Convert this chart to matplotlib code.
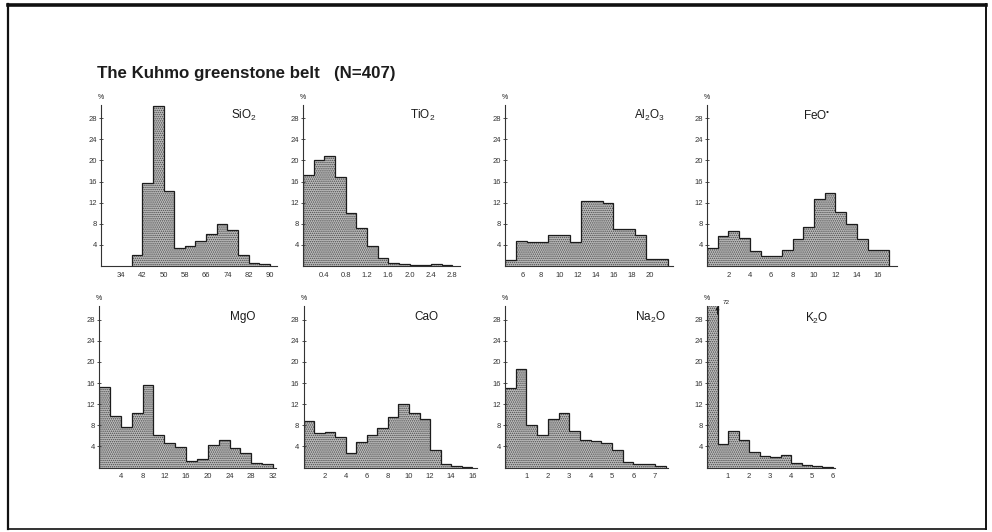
import matplotlib
matplotlib.use("Agg")
import matplotlib.pyplot as plt
from matplotlib.lines import Line2D

plt.rcParams['font.family'] = ['Liberation Sans', 'DejaVu Sans']
plt.rcParams['mathtext.fontset'] = 'custom'
plt.rcParams['mathtext.rm'] = 'Liberation Sans'
plt.rcParams['mathtext.default'] = 'regular'
plt.rcParams['hatch.linewidth'] = 0.7

# bin edges (wt %) and frequencies (%)
sio2_edges = [38, 42, 46, 50, 54, 58, 62, 66, 70, 74, 78, 82, 86, 90]
sio2_pct = [2.0, 15.8, 30.3, 14.2, 3.5, 3.7, 4.8, 6.0, 8.0, 6.8, 2.0, 0.5, 0.3]

tio2_edges = [0, 0.2, 0.4, 0.6, 0.8, 1.0, 1.2, 1.4, 1.6, 1.8, 2.0, 2.2, 2.4, 2.6, 2.8]
tio2_pct = [17.2, 20.1, 20.9, 16.8, 10.1, 7.2, 3.7, 1.5, 0.5, 0.3, 0.2, 0.1, 0.3, 0.2]

al2o3_edges = [4, 5.2, 6.4, 7.6, 8.8, 10.0, 11.2, 12.4, 13.6, 14.8, 16.0, 17.2, 18.4, 19.6, 20.8, 22.0]
al2o3_pct = [1.2, 4.8, 4.6, 4.6, 5.8, 5.8, 4.5, 12.4, 12.4, 12.0, 7.0, 7.0, 5.8, 1.4, 1.4]

feo_edges = [0, 1, 2, 3, 4, 5, 6, 7, 8, 9, 10, 11, 12, 13, 14, 15, 16, 17]
feo_pct = [3.5, 5.6, 6.6, 5.3, 2.9, 1.9, 1.9, 3.0, 5.1, 7.4, 12.6, 13.9, 10.3, 8.0, 5.2, 3.1, 3.0]

mgo_edges = [0, 2, 4, 6, 8, 10, 12, 14, 16, 18, 20, 22, 24, 26, 28, 30, 32]
mgo_pct = [15.3, 9.8, 7.7, 10.3, 15.7, 6.2, 4.7, 3.8, 1.3, 1.6, 4.2, 5.3, 3.7, 2.7, 0.8, 0.6]

cao_edges = [0, 1, 2, 3, 4, 5, 6, 7, 8, 9, 10, 11, 12, 13, 14, 15, 16]
cao_pct = [8.9, 6.6, 6.8, 5.8, 2.8, 4.8, 6.1, 7.5, 9.6, 12.0, 10.3, 9.1, 3.3, 0.75, 0.2, 0.1]

na2o_edges = [0, 0.5, 1, 1.5, 2, 2.5, 3, 3.5, 4, 4.5, 5, 5.5, 6, 6.5, 7, 7.5]
na2o_pct = [15.0, 18.75, 8.1, 6.25, 9.1, 10.4, 7.0, 5.2, 5.0, 4.6, 3.25, 1.1, 0.6, 0.6, 0.3]

k2o_edges = [0, 0.5, 1, 1.5, 2, 2.5, 3, 3.5, 4, 4.5, 5, 5.5, 6]
k2o_pct = [72.0, 4.4, 6.9, 5.3, 2.9, 2.2, 1.9, 2.3, 0.9, 0.5, 0.3, 0.15]

sio2_ticks = [34, 42, 50, 58, 66, 74, 82, 90]
tio2_ticks = [0.4, 0.8, 1.2, 1.6, 2.0, 2.4, 2.8]
al2o3_ticks = [6, 8, 10, 12, 14, 16, 18, 20]
feo_ticks = [2, 4, 6, 8, 10, 12, 14, 16]
mgo_ticks = [4, 8, 12, 16, 20, 24, 28, 32]
cao_ticks = [2, 4, 6, 8, 10, 12, 14, 16]
na2o_ticks = [1, 2, 3, 4, 5, 6, 7]
k2o_ticks = [1, 2, 3, 4, 5, 6]
y_ticks = [4, 8, 12, 16, 20, 24, 28]

W, H = 992, 532
YTOP = 30.5
PPY = 5.28   # pixels per percent

fig = plt.figure(figsize=(W / 100, H / 100), dpi=100)
fig.patch.set_facecolor('white')

INK = '#1c1c1c'


def panel(left, base, x0, x1, ppu, edges, pct, ticks, fmt, name, name_xy):
    ax = fig.add_axes([left / W, (H - base) / H, (x1 - x0) * ppu / W, YTOP * PPY / H])
    ax.stairs(pct, edges, fill=True, facecolor='#bdbdbd', edgecolor='#4a4a4a',
              hatch='........', linewidth=0)
    ax.stairs(pct, edges, color=INK, linewidth=0.9)
    ax.set_xlim(x0, x1)
    ax.set_ylim(0, YTOP)
    for s in ('top', 'right'):
        ax.spines[s].set_visible(False)
    for s in ('left', 'bottom'):
        ax.spines[s].set_linewidth(0.8)
        ax.spines[s].set_color('#333333')
    ax.set_yticks(y_ticks)
    ax.set_yticklabels([str(t) for t in y_ticks])
    ax.set_xticks(ticks)
    ax.set_xticklabels([fmt.format(t) for t in ticks])
    ax.tick_params(axis='y', direction='inout', length=3, width=0.6, pad=1.5,
                   labelsize=5.5, colors='#333333')
    ax.tick_params(axis='x', length=0, pad=4, labelsize=5.5, colors='#333333')
    ax.patch.set_alpha(0)
    ax.text(0, 1.025, '%', transform=ax.transAxes, fontsize=5, ha='center',
            va='bottom', color=INK)
    fig.text(name_xy[0] / W, 1 - name_xy[1] / H, name, fontsize=8.5,
             ha='center', va='center', color=INK)
    return ax


TOP, BOT = 266, 467.5
panel(101, TOP, 26.5, 92.5, 2.66, sio2_edges, sio2_pct, sio2_ticks, '{:g}',
      'SiO$_2$', (244, 115))
panel(303, TOP, 0, 2.95, 53.3, tio2_edges, tio2_pct, tio2_ticks, '{:.1f}',
      'TiO$_2$', (423, 115))
panel(505, TOP, 4, 22.6, 9.03, al2o3_edges, al2o3_pct, al2o3_ticks, '{:g}',
      'Al$_2$O$_3$', (650, 115))
panel(707, TOP, 0, 17.8, 10.7, feo_edges, feo_pct, feo_ticks, '{:g}',
      'FeO$^{•}$', (817, 116))
panel(99, BOT, 0, 32.6, 5.44, mgo_edges, mgo_pct, mgo_ticks, '{:g}',
      'MgO', (243, 317))
panel(303.5, BOT, 0, 16.4, 10.55, cao_edges, cao_pct, cao_ticks, '{:g}',
      'CaO', (426, 317))
panel(505, BOT, 0, 7.6, 21.4, na2o_edges, na2o_pct, na2o_ticks, '{:g}',
      'Na$_2$O', (650, 317))
axk = panel(707, BOT, 0, 6.1, 21.0, k2o_edges, k2o_pct, k2o_ticks, '{:g}',
            'K$_2$O', (817, 318))
axk.annotate('', xy=(0.5, YTOP + 0.6), xytext=(0.5, YTOP - 2),
             arrowprops=dict(arrowstyle='-|>', color=INK, lw=0.7,
                             mutation_scale=5), annotation_clip=False)
axk.text(0.75, YTOP + 0.3, str(int(k2o_pct[0])), fontsize=4.5, ha='left',
         va='bottom', color=INK)

fig.text(97 / W, 1 - 73 / H, 'The Kuhmo greenstone belt   (N=407)',
         weight='bold', fontsize=12.2, ha='left', va='center', color=INK)

# frame around the figure
def fline(x0, y0, x1, y1, lw):
    fig.add_artist(Line2D([x0 / W, x1 / W], [1 - y0 / H, 1 - y1 / H],
                          color='#111111', lw=lw, transform=fig.transFigure))

fline(8, 4.5, 986, 4.5, 2.6)
fline(8, 4, 8, 529, 1.6)
fline(986, 4, 986, 529, 1.4)
fline(8, 529, 986, 529, 1.2)

fig.savefig('out.png', dpi=100, facecolor='white')
